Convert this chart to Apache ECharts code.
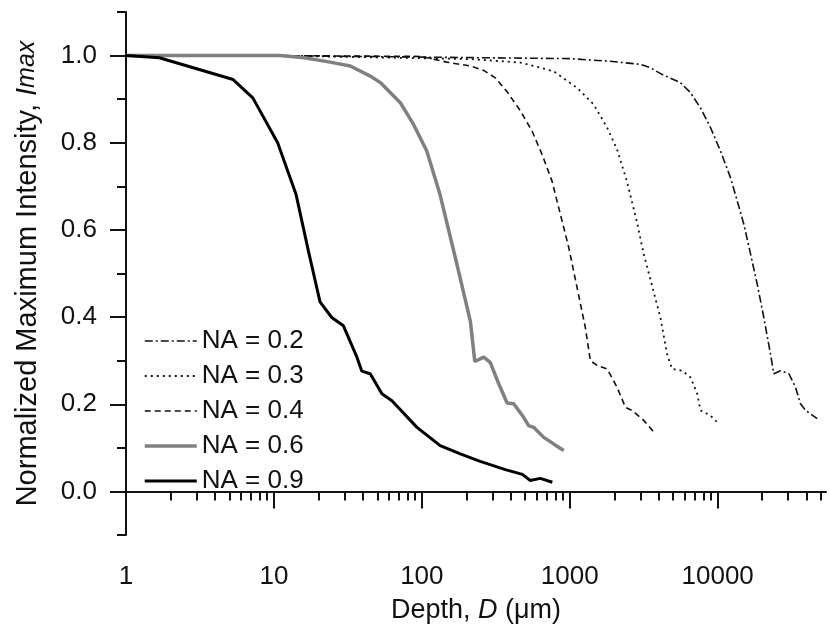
<!DOCTYPE html>
<html>
<head>
<meta charset="utf-8">
<script src="https://cdn.jsdelivr.net/npm/echarts@6/dist/echarts.min.js"></script>
<style>
html, body { margin: 0; padding: 0; background: #fff; }
#main { width: 829px; height: 629px; }
</style>
</head>
<body>
<div id="main"></div>
<script>
// depth (um), normalized max intensity
var na02 = [[10, 1.0], [1000, 0.993], [1870, 0.987], [3000, 0.980], [3510, 0.972], [4200, 0.957], [5600, 0.938], [6550, 0.915], [7650, 0.880], [8940, 0.835], [10450, 0.781], [12210, 0.720], [13550, 0.667], [15030, 0.613], [16680, 0.545], [18500, 0.476], [20520, 0.399], [22760, 0.315], [23970, 0.270], [26600, 0.277], [30300, 0.270], [33600, 0.239], [36300, 0.201], [39300, 0.186], [47100, 0.167]];
var na03 = [[10, 1.0], [213, 0.992], [464, 0.984], [778, 0.964], [1120, 0.926], [1450, 0.888], [1788, 0.835], [2089, 0.785], [2433, 0.712], [2834, 0.621], [3160, 0.545], [3550, 0.48], [4100, 0.399], [4550, 0.315], [4920, 0.281], [5750, 0.277], [6550, 0.262], [7270, 0.224], [7650, 0.186], [8940, 0.174], [10180, 0.155]];
var na04 = [[10, 1.0], [100, 0.998], [147, 0.985], [213, 0.976], [262, 0.966], [314, 0.949], [377, 0.917], [464, 0.873], [556, 0.827], [650, 0.773], [759, 0.712], [864, 0.636], [984, 0.560], [1120, 0.468], [1275, 0.376], [1378, 0.300], [1530, 0.289], [1788, 0.281], [2089, 0.239], [2378, 0.193], [2637, 0.186], [3160, 0.163], [3794, 0.132]];
var na06 = [[1, 1.0], [11, 1.0], [16, 0.995], [24, 0.985], [32.8, 0.976], [44.8, 0.953], [52.4, 0.938], [71.5, 0.892], [87.9, 0.842], [108, 0.781], [133, 0.68], [173, 0.52], [213, 0.39], [228, 0.298], [262, 0.308], [290, 0.296], [331, 0.247], [377, 0.203], [418, 0.201], [488, 0.170], [527, 0.151], [570, 0.147], [667, 0.124], [778, 0.109], [910, 0.094]];
var na09 = [[1, 1.0], [1.68, 0.995], [5.3, 0.945], [7.2, 0.903], [10.6, 0.80], [14.1, 0.682], [17.1, 0.552], [20.5, 0.435], [24.6, 0.399], [29.5, 0.380], [36.4, 0.308], [39.3, 0.276], [44.8, 0.270], [53.7, 0.224], [62.8, 0.208], [92.7, 0.147], [133, 0.105], [182, 0.086], [248, 0.069], [367, 0.050], [478, 0.039], [541, 0.025], [632, 0.030], [763, 0.021]];

var seriesNames = ['NA = 0.2', 'NA = 0.3', 'NA = 0.4', 'NA = 0.6', 'NA = 0.9'];
var xMajor = [1, 10, 100, 1000, 10000];
var xMinor = [2, 3, 4, 5, 6, 7, 8, 9, 20, 30, 40, 50, 60, 70, 80, 90, 200, 300, 400, 500, 600, 700, 800, 900, 2000, 3000, 4000, 5000, 6000, 7000, 8000, 9000, 20000, 30000, 40000, 50000];
var yMajor = [0, 0.2, 0.4, 0.6, 0.8, 1.0];
var yMinor = [-0.1, 0.1, 0.3, 0.5, 0.7, 0.9, 1.1];

var font = 'Liberation Sans, Arial, sans-serif';
var ink = '#111';

var styles = [
    { color: '#111', width: 1.6, type: [8, 3, 2, 3] },
    { color: '#111', width: 1.8, type: [2, 4] },
    { color: '#111', width: 1.6, type: [6, 4] },
    { color: '#808080', width: 3.5, type: 'solid' },
    { color: '#000', width: 3, type: 'solid' }
];

var myChart = echarts.init(document.getElementById('main'));

function lineSeries(name, data, style) {
    return {
        name: name,
        type: 'line',
        data: data,
        xAxisIndex: 0,
        yAxisIndex: 0,
        symbol: 'none',
        showSymbol: false,
        silent: true,
        lineStyle: style,
        itemStyle: { color: style.color },
        animation: false
    };
}

myChart.setOption({
    animation: false,
    backgroundColor: '#fff',
    grid: { left: 126, right: 3, top: 12, bottom: 94, containLabel: false },
    legend: {
        orient: 'vertical',
        left: 143,
        top: 328,
        padding: 0,
        itemWidth: 52,
        itemHeight: 14,
        itemGap: 9,
        itemStyle: { opacity: 0, borderWidth: 0 },
        data: seriesNames.map(function (n, i) {
            return { name: n, lineStyle: { width: styles[i].width, type: styles[i].type, color: styles[i].color } };
        }),
        textStyle: { fontFamily: font, fontSize: 26, color: ink, lineHeight: 26 }
    },
    xAxis: [{
        type: 'log',
        min: 1,
        max: 54000,
        position: 'bottom',
        name: '{n|Depth, }{i|D}{n| (μm)}',
        nameLocation: 'middle',
        nameGap: 62,
        nameTextStyle: {
            rich: {
                n: { fontFamily: font, fontSize: 27, color: ink },
                i: { fontFamily: font, fontSize: 27, color: ink, fontStyle: 'italic' }
            }
        },
        axisLine: { show: true, lineStyle: { color: ink, width: 2 } },
        axisTick: { show: true, inside: false, length: 17, lineStyle: { color: ink, width: 2 }, customValues: xMajor },
        axisLabel: { margin: 29, fontFamily: font, fontSize: 26, color: ink, customValues: xMajor, formatter: function (v) { return String(v); } },
        splitLine: { show: false },
        minorTick: { show: false }
    }, {
        type: 'log',
        min: 1,
        max: 54000,
        position: 'bottom',
        axisLine: { show: false },
        axisTick: { show: true, inside: false, length: 9, lineStyle: { color: ink, width: 2 }, customValues: xMinor },
        axisLabel: { show: false },
        splitLine: { show: false }
    }],
    yAxis: [{
        type: 'value',
        min: -0.1,
        max: 1.1,
        position: 'left',
        name: '{n|Normalized Maximum Intensity, }{i|I}{s|max}',
        nameLocation: 'middle',
        nameGap: 84,
        nameTextStyle: {
            rich: {
                n: { fontFamily: font, fontSize: 29, color: ink },
                i: { fontFamily: font, fontSize: 29, color: ink, fontStyle: 'italic' },
                s: { fontFamily: font, fontSize: 25, color: ink, fontStyle: 'italic' }
            }
        },
        axisLine: { show: true, lineStyle: { color: ink, width: 2 } },
        axisTick: { show: true, inside: false, length: 16, lineStyle: { color: ink, width: 2 }, customValues: yMajor },
        axisLabel: { margin: 29, fontFamily: font, fontSize: 26, color: ink, customValues: yMajor, formatter: function (v) { return v.toFixed(1); } },
        splitLine: { show: false }
    }, {
        type: 'value',
        min: -0.1,
        max: 1.1,
        position: 'left',
        axisLine: { show: false },
        axisTick: { show: true, inside: false, length: 9, lineStyle: { color: ink, width: 2 }, customValues: yMinor },
        axisLabel: { show: false },
        splitLine: { show: false }
    }],
    series: seriesNames.map(function (n, i) {
        return lineSeries(n, [na02, na03, na04, na06, na09][i], styles[i]);
    })
});
</script>
</body>
</html>
